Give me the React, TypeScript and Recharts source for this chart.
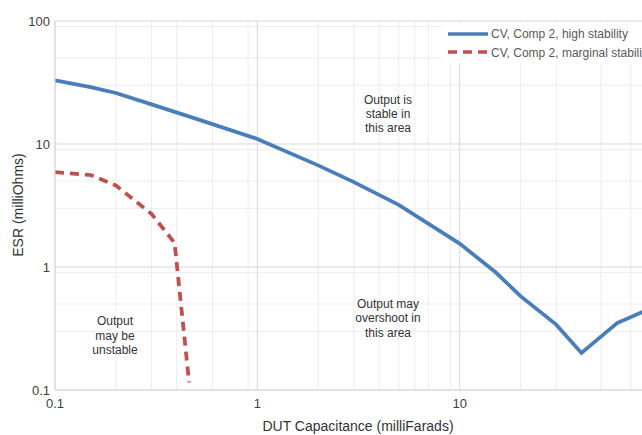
import React from 'react';
import { LineChart, Line, XAxis, YAxis, CartesianGrid, Customized } from 'recharts';

// high stability curve (CV, Comp 2)
const capHigh = [0.1, 0.15, 0.2, 0.3, 0.5, 1, 2, 3, 5, 10, 15, 20, 30, 40, 60, 80, 100];
const esrHigh = [33, 29, 26, 21, 16, 11, 6.7, 4.9, 3.2, 1.55, 0.91, 0.58, 0.34, 0.2, 0.35, 0.43, 0.5];

// marginal stability curve
const capMarginal = [0.1, 0.15, 0.2, 0.3, 0.39, 0.46];
const esrMarginal = [5.9, 5.6, 4.6, 2.7, 1.57, 0.115];

const xTicks = [0.1, 1, 10];
const xMajor = [0.1, 1, 10, 100];
const yTicks = [0.1, 1, 10, 100];
const decades = [0.1, 1, 10];
const steps = [2, 3, 4, 5, 6, 7, 8, 9];

const minorGrid = decades.flatMap(d => steps.map(s => +(d * s).toPrecision(3)));

const highData = capHigh.map((c, i) => ({ cap: c, esr: esrHigh[i] }));
const marginalData = capMarginal.map((c, i) => ({ cap: c, esr: esrMarginal[i] }));

const BLUE = '#4a7ebb';
const RED = '#c0504d';
const FONT = 'Liberation Sans, Arial, sans-serif';

const fmt = (v: number) => (v < 1 ? String(v) : String(Math.round(v)));

function Overlay() {
  const note = { fontFamily: FONT, fontSize: 12, fill: '#333', textAnchor: 'middle' as const };
  return (
    <g>
      <text x={388} y={103.5} {...note}>Output is</text>
      <text x={388} y={117.5} {...note}>stable in</text>
      <text x={388} y={131.5} {...note}>this area</text>

      <text x={388} y={307.5} {...note}>Output may</text>
      <text x={388} y={322} {...note}>overshoot in</text>
      <text x={388} y={336.5} {...note}>this area</text>

      <text x={115} y={325} {...note}>Output</text>
      <text x={115} y={339.5} {...note}>may be</text>
      <text x={115} y={353.5} {...note}>unstable</text>

      {/* legend */}
      <rect x={443} y={23} width={240} height={40} fill="#fff" />
      <line x1={448} y1={34} x2={488} y2={34} stroke={BLUE} strokeWidth={3.5} />
      <line x1={448} y1={52} x2={488} y2={52} stroke={RED} strokeWidth={3.5} strokeDasharray="9 6" />
      <text x={491} y={38} fontFamily={FONT} fontSize={12} fill="#595959">CV, Comp 2, high stability</text>
      <text x={491} y={56.5} fontFamily={FONT} fontSize={12} fill="#595959">CV, Comp 2, marginal stability</text>

      {/* axis titles */}
      <text x={358} y={431} fontFamily={FONT} fontSize={14} fill="#333" textAnchor="middle">
        DUT Capacitance (milliFarads)
      </text>
      <text
        x={18}
        y={205}
        fontFamily={FONT}
        fontSize={14}
        fill="#333"
        textAnchor="middle"
        dominantBaseline="central"
        transform="rotate(-90 18 205)"
      >
        ESR (milliOhms)
      </text>
    </g>
  );
}

export default function App() {
  return (
    <div style={{ position: 'fixed', left: 0, top: 0, width: 642, height: 435, overflow: 'hidden', background: '#fff' }}>
      <LineChart width={680} height={435} margin={{ top: 21, right: 18, bottom: 15, left: 0 }}>
        <CartesianGrid stroke="#ededed" verticalValues={minorGrid} horizontalValues={minorGrid} />
        <CartesianGrid stroke="#d9d9d9" verticalValues={xMajor} horizontalValues={yTicks} />
        <XAxis
          dataKey="cap"
          type="number"
          scale="log"
          domain={[0.1, 100]}
          ticks={xTicks}
          allowDataOverflow
          height={30}
          tickSize={3}
          tickMargin={6}
          tickLine={false}
          tickFormatter={fmt}
          axisLine={{ stroke: '#d9d9d9' }}
          tick={{ fontSize: 13, fill: '#404040', fontFamily: FONT }}
        />
        <YAxis
          dataKey="esr"
          type="number"
          scale="log"
          domain={[0.1, 100]}
          ticks={yTicks}
          allowDataOverflow
          width={55}
          tickSize={3}
          tickMargin={2}
          tickLine={false}
          tickFormatter={fmt}
          axisLine={{ stroke: '#d9d9d9' }}
          tick={{ fontSize: 13, fill: '#404040', fontFamily: FONT }}
        />
        <Line
          data={highData}
          dataKey="esr"
          stroke={BLUE}
          strokeWidth={3.75}
          dot={false}
          type="linear"
          isAnimationActive={false}
        />
        <Line
          data={marginalData}
          dataKey="esr"
          stroke={RED}
          strokeWidth={3.75}
          strokeDasharray="9 6"
          dot={false}
          type="linear"
          isAnimationActive={false}
        />
        <Customized component={Overlay} />
      </LineChart>
    </div>
  );
}
